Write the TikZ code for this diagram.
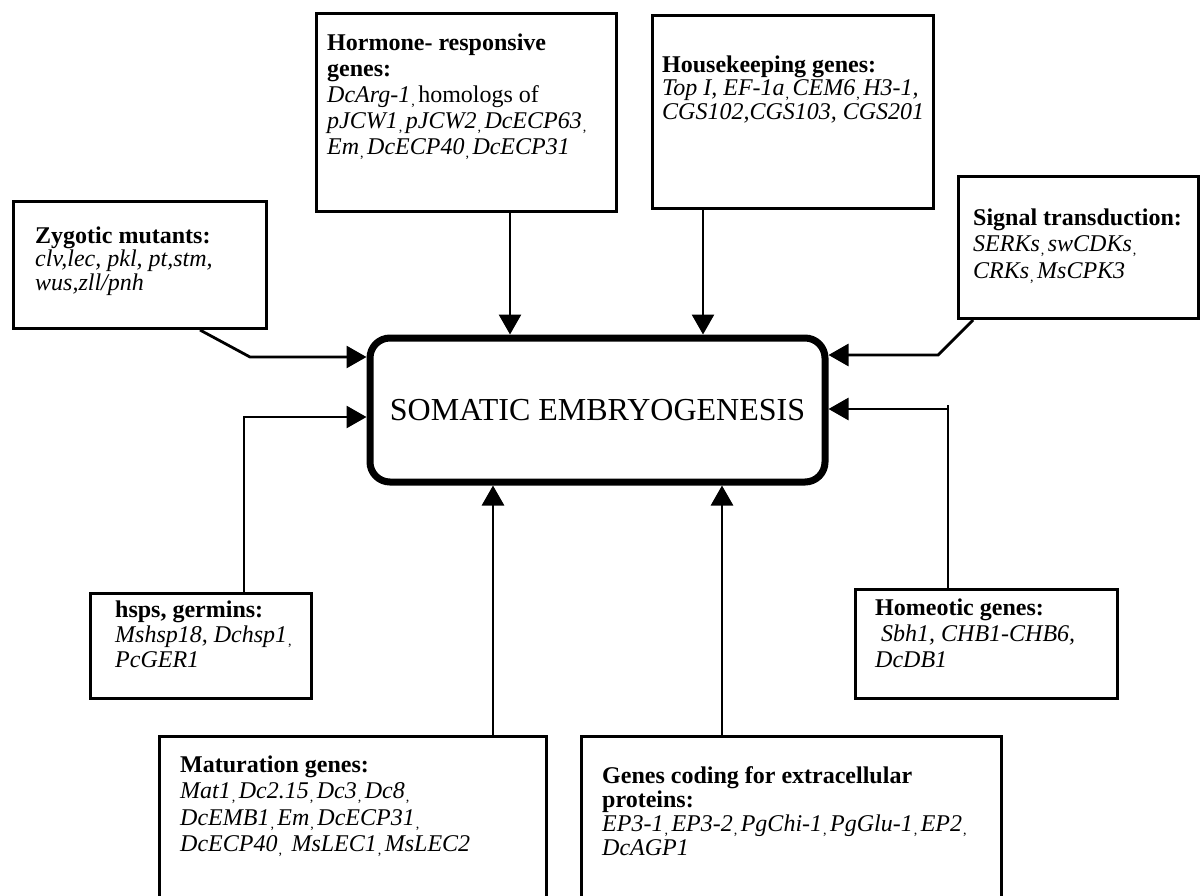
\documentclass[tikz,border=0pt]{standalone}
\usepackage{fontspec}
\setmainfont{Liberation Serif}
\usetikzlibrary{arrows.meta,calc}
\newcommand\lc{\hspace{1pt}\raisebox{-3pt}{\fontsize{14}{14}\selectfont,}\hspace{3.5pt}}
\begin{document}
\begin{tikzpicture}[x=1pt,y=-1pt,
  box/.style={draw, line width=3pt, rectangle, inner sep=0pt, anchor=north west},
  txt/.style={inner sep=0pt, anchor=base west, font=\fontsize{24}{#1}\selectfont},
  txt/.default=25,
  conn/.style={line width=2.8pt},
  arr/.style={conn, -{Triangle[length=20pt,width=22pt]}},
  core/.style={draw, line width=7pt, rounded corners=20pt, minimum width=455pt,
    minimum height=144pt, inner sep=0pt, font=\fontsize{32}{32}\selectfont}]
\useasboundingbox (0,0) rectangle (1201,895);
\fill[white] (0,0) rectangle (1201,895);
\clip (0,0) rectangle (1201,895);

% boxes
\node[box, minimum width=253pt, minimum height=127pt] (zyg) at (12,200) {};
\node[box, minimum width=300pt, minimum height=198pt] (horm) at (315,12) {};
\node[box, minimum width=281pt, minimum height=193pt] (house) at (651,14) {};
\node[box, minimum width=240pt, minimum height=142pt] (sig) at (957,175) {};
\node[box, minimum width=221pt, minimum height=105pt] (hsps) at (89,592) {};
\node[box, minimum width=262pt, minimum height=109pt] (home) at (854,588) {};
\node[box, minimum width=387pt, minimum height=200pt] (mat) at (158,735) {};
\node[box, minimum width=420pt, minimum height=200pt] (ext) at (580,735) {};

\node[core] (c) at (597.5,410) {SOMATIC EMBRYOGENESIS};

% texts
\node[txt=23.5] (zygt) at (35,243) {\parbox[t]{240pt}{\raggedright
  \textbf{Zygotic mutants:}\\ \textit{clv,lec, pkl, pt,stm,}\\ \textit{wus,zll/pnh}}};
\node[txt=26] (hormt) at (327,50) {\parbox[t]{290pt}{\raggedright
  \textbf{Hormone- responsive}\\ \textbf{genes:}\\
  \textit{DcArg-1}\lc homologs of\\
  \textit{pJCW1}\lc\textit{pJCW2}\lc\textit{DcECP63}\lc\\
  \textit{Em}\lc\textit{DcECP40}\lc\textit{DcECP31}}};
\node[txt=23.5] (houset) at (662,72) {\parbox[t]{280pt}{\raggedright
  \textbf{Housekeeping genes:}\\
  \textit{Top I, EF-1a}\lc\textit{CEM6}\lc\textit{H3-1,}\\
  \textit{CGS102,CGS103, CGS201}}};
\node[txt=26.5] (sigt) at (973,225) {\parbox[t]{230pt}{\raggedright
  \textbf{Signal transduction:}\\
  \textit{SERKs}\lc\textit{swCDKs}\lc\\
  \textit{CRKs}\lc\textit{MsCPK3}}};
\node[txt=25] (hspst) at (115,617) {\parbox[t]{200pt}{\raggedright
  \textbf{hsps, germins:}\\
  \textit{Mshsp18, Dchsp1}\lc\\
  \textit{PcGER1}}};
\node[txt=26] (homet) at (875,615) {\parbox[t]{240pt}{\raggedright
  \textbf{Homeotic genes:}\\
  \textit{\ Sbh1, CHB1-CHB6,}\\
  \textit{DcDB1}}};
\node[txt=26.5] (matt) at (180,772) {\parbox[t]{360pt}{\raggedright
  \textbf{Maturation genes:}\\
  \textit{Mat1}\lc\textit{Dc2.15}\lc\textit{Dc3}\lc\textit{Dc8}\lc\\
  \textit{DcEMB1}\lc\textit{Em}\lc\textit{DcECP31}\lc\\
  \textit{DcECP40}\lc\ \textit{MsLEC1}\lc\textit{MsLEC2}}};
\node[txt=24] (extt) at (602,783) {\parbox[t]{400pt}{\raggedright
  \textbf{Genes coding for extracellular}\\ \textbf{proteins:}\\
  \textit{EP3-1}\lc\textit{EP3-2}\lc\textit{PgChi-1}\lc\textit{PgGlu-1}\lc\textit{EP2}\lc\\
  \textit{DcAGP1}}};

% helper coordinates
\coordinate (xh) at (510,0);
\coordinate (xk) at (703,0);
\coordinate (xm) at (493,0);
\coordinate (xe) at (722,0);
\coordinate (zs) at (200,0);
\coordinate (zk) at (250,357);
\coordinate (hk) at (244,417);
\coordinate (ss) at (973,0);
\coordinate (sk) at (938,355);
\coordinate (mk) at (948,409);

% connectors
\draw[arr] (horm.south -| xh) -- (c.north -| xh);
\draw[arr] (house.south -| xk) -- (c.north -| xk);
\draw[arr] (mat.north -| xm) -- (c.south -| xm);
\draw[arr] (ext.north -| xe) -- (c.south -| xe);
\draw[arr] (zyg.south -| zs) -- (zk) -- (c.west |- zk);
\draw[arr] (hsps.north -| hk) -- (hk) -- (c.west |- hk);
\draw[arr] (sig.south -| ss) -- (sk) -- (c.east |- sk);
\draw[conn] (home.north -| mk) -- ([yshift=4pt]mk);
\draw[arr] (mk) -- (c.east |- mk);
\end{tikzpicture}
\end{document}
